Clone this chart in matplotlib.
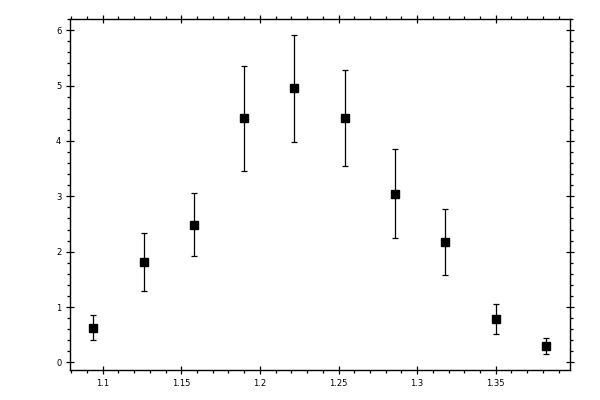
import matplotlib
matplotlib.use("Agg")
import matplotlib.pyplot as plt
from matplotlib.ticker import MultipleLocator, FormatStrFormatter

x_vals = [1.094, 1.126, 1.158, 1.190, 1.222, 1.254, 1.286, 1.318, 1.350, 1.382]
y_vals = [0.63, 1.81, 2.49, 4.41, 4.95, 4.41, 3.05, 2.17, 0.79, 0.30]
y_err = [0.23, 0.52, 0.57, 0.95, 0.96, 0.87, 0.80, 0.60, 0.27, 0.145]
x_ticks = [1.1, 1.15, 1.2, 1.25, 1.3, 1.35]
x_labels = ["1.1", "1.15", "1.2", "1.25", "1.3", "1.35"]
y_ticks = [0, 1, 2, 3, 4, 5, 6]

fig = plt.figure(figsize=(6, 4), dpi=100)
ax = fig.add_axes([0.116, 0.074, 0.834, 0.878])
ax.errorbar(x_vals, y_vals, yerr=y_err, fmt='s', color='black', ms=5.2,
            ecolor='black', elinewidth=0.9, capsize=2.2, capthick=0.9)
ax.set_xlim(1.0789, 1.3973)
ax.set_ylim(-0.145, 6.2)
ax.set_xticks(x_ticks)
ax.set_xticklabels(x_labels)
ax.set_yticks(y_ticks)
ax.xaxis.set_minor_locator(MultipleLocator(0.01))
ax.yaxis.set_minor_locator(MultipleLocator(0.2))
for s in ax.spines.values():
    s.set_linewidth(1.0)
ax.tick_params(which='major', direction='inout', length=6, width=0.9,
               labelsize=6, top=True, right=True, labeltop=False, labelright=False, pad=3)
ax.tick_params(which='minor', direction='out', length=2.3, width=0.9,
               top=True, right=True)
fig.savefig("out.png", dpi=100)
